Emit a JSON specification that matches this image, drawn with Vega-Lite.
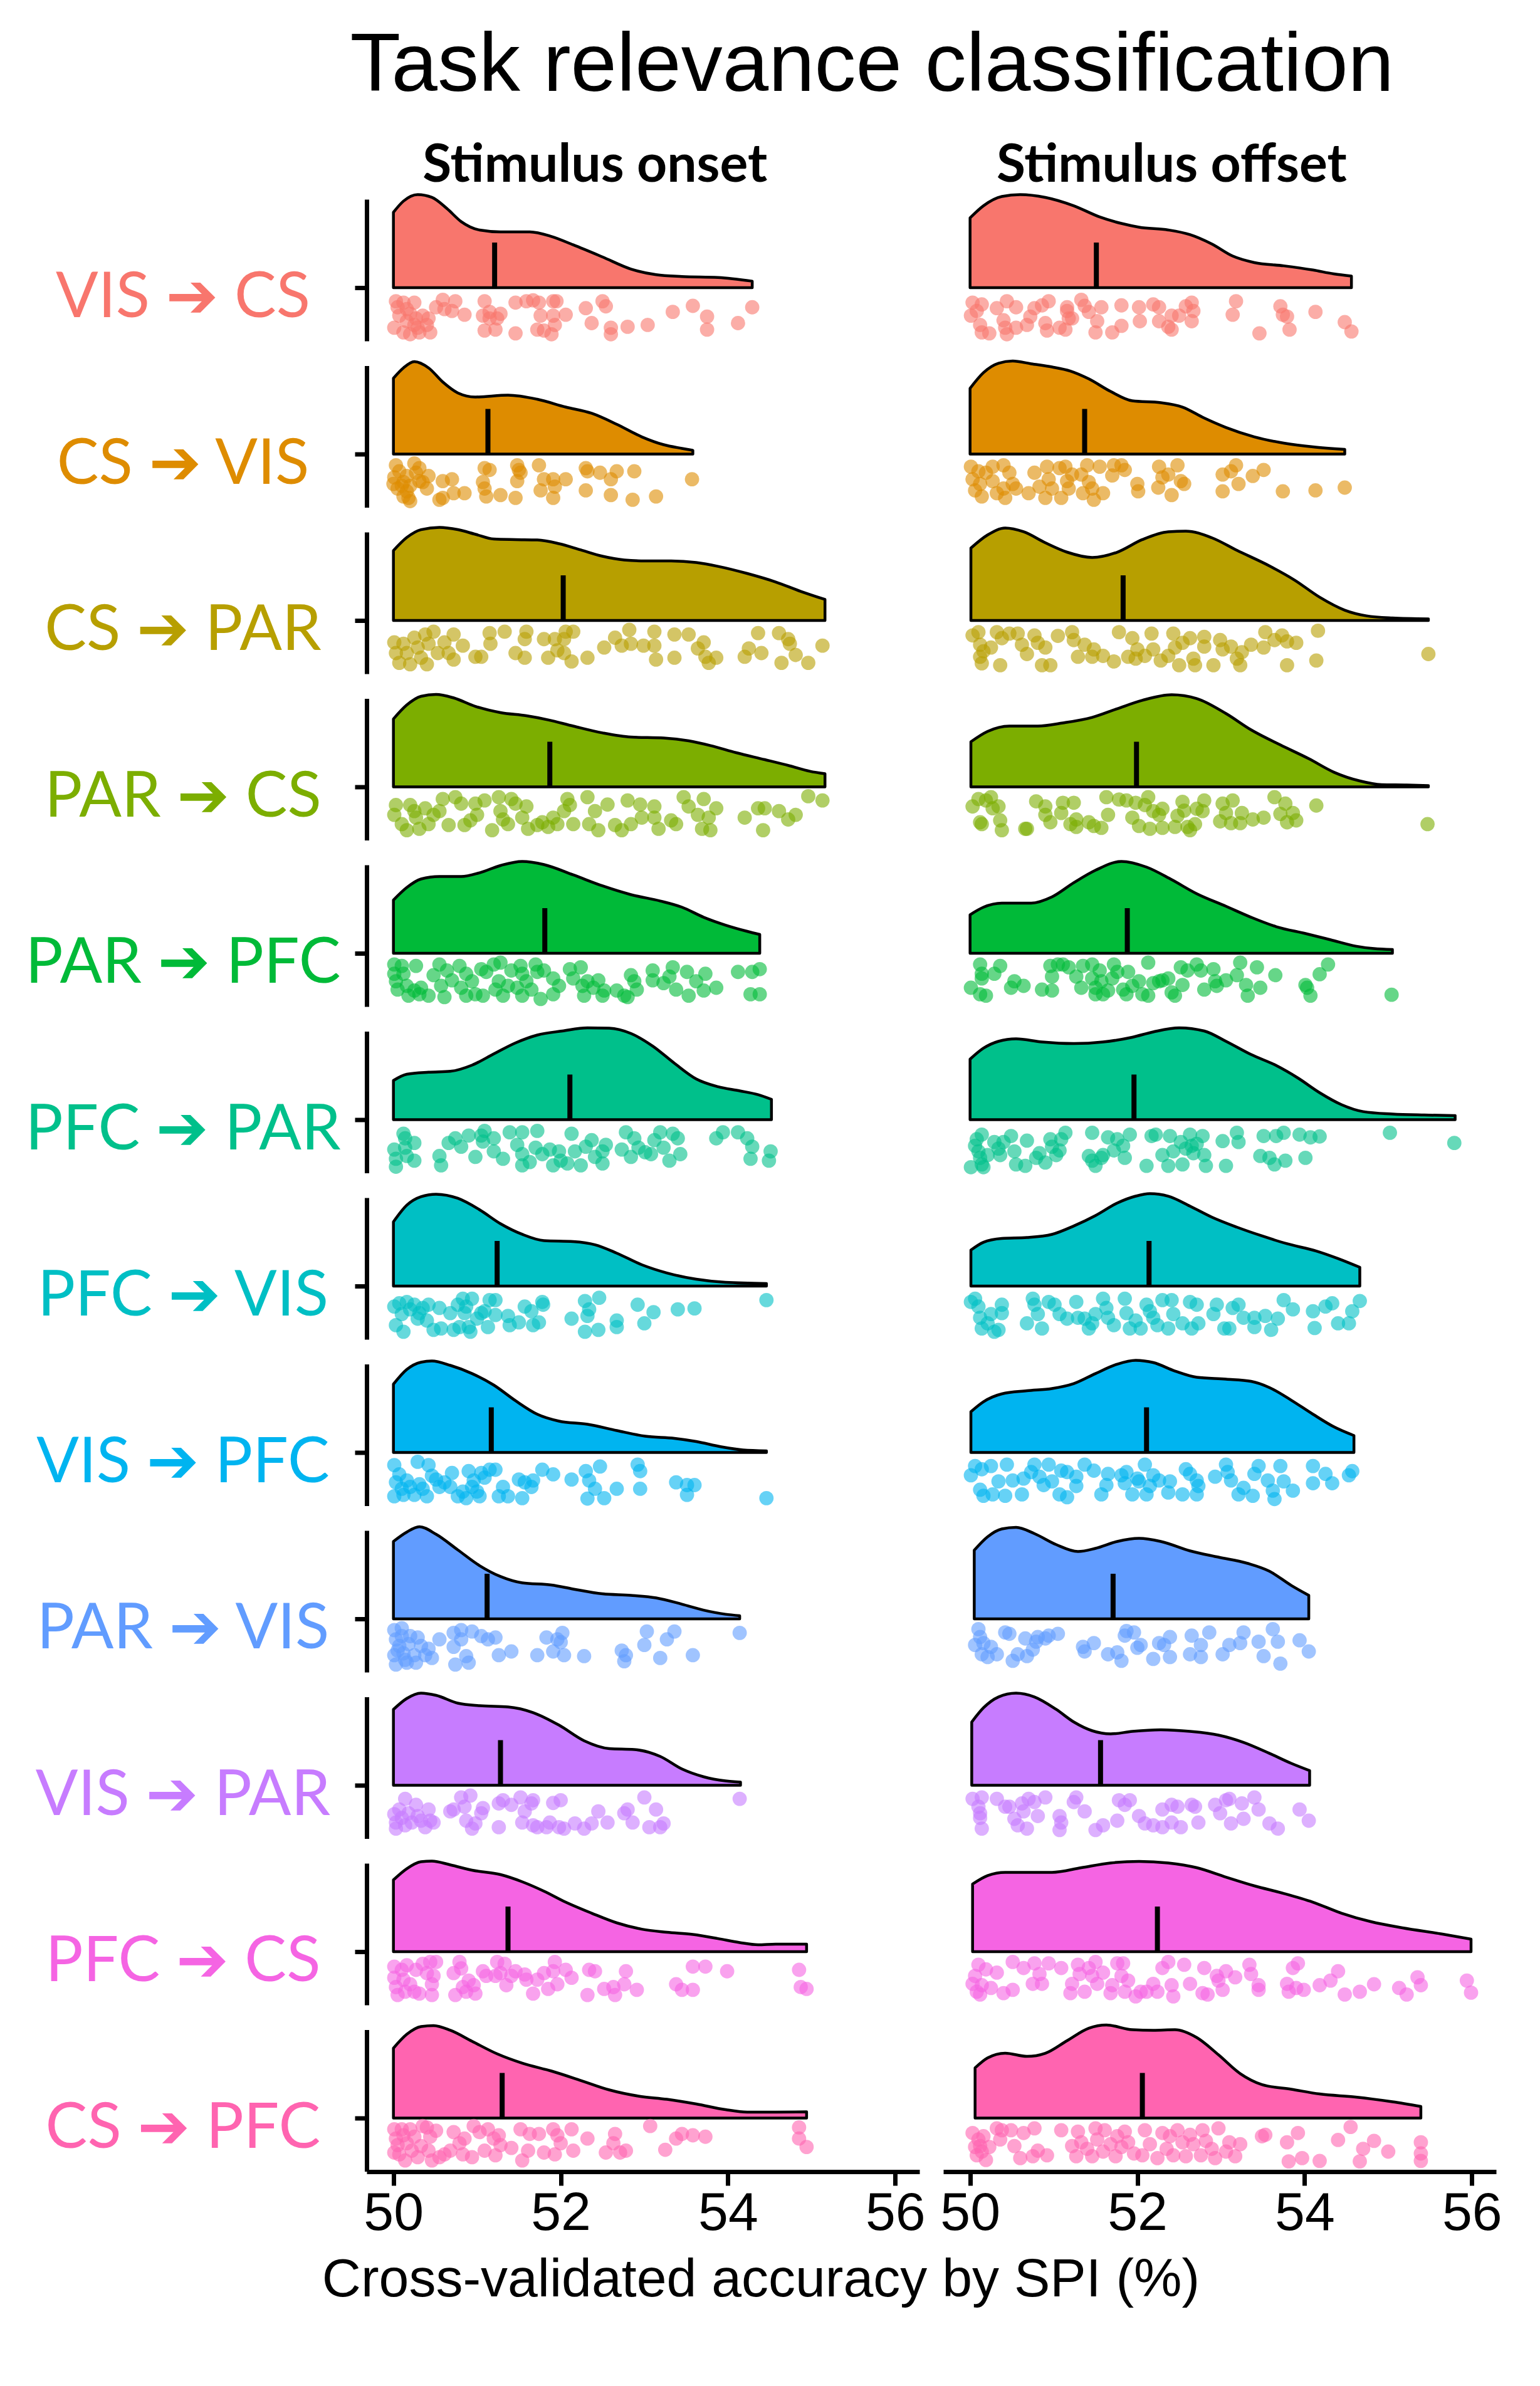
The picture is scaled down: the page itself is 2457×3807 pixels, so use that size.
{
"$schema": "https://vega.github.io/schema/vega-lite/v6.json",
"background": "white",
"padding": {"left": 40, "top": 39, "right": 20, "bottom": 20},
"title": {"text": "Task relevance classification", "font": "Liberation Sans", "fontSize": 132, "fontWeight": "normal", "color": "black", "anchor": "middle", "dx": 173, "offset": 50},
"data": {"values": [
{"t":"d","c":"VIS ➔ CS","e":"Stimulus onset","p":[[50.0,0.81],[50.12,0.93],[50.29,1.0],[50.46,0.97],[50.64,0.85],[50.81,0.71],[51.03,0.62],[51.28,0.6],[51.63,0.6],[51.89,0.55],[52.15,0.46],[52.5,0.33],[52.84,0.2],[53.14,0.14],[53.45,0.12],[53.88,0.11],[54.29,0.07]]},
{"t":"d","c":"VIS ➔ CS","e":"Stimulus offset","p":[[50.0,0.75],[50.16,0.88],[50.38,0.98],[50.6,1.0],[50.9,0.97],[51.24,0.88],[51.55,0.76],[51.81,0.69],[52.02,0.65],[52.37,0.62],[52.63,0.57],[52.89,0.47],[53.14,0.34],[53.4,0.27],[53.75,0.235],[54.1,0.19],[54.35,0.148],[54.56,0.125]]},
{"t":"d","c":"CS ➔ VIS","e":"Stimulus onset","p":[[50.0,0.815],[50.12,0.926],[50.25,0.993],[50.42,0.926],[50.59,0.774],[50.77,0.657],[50.98,0.613],[51.37,0.633],[51.72,0.589],[52.06,0.505],[52.37,0.438],[52.67,0.32],[52.97,0.185],[53.23,0.101],[53.45,0.061],[53.58,0.04]]},
{"t":"d","c":"CS ➔ VIS","e":"Stimulus offset","p":[[50.0,0.707],[50.16,0.875],[50.34,0.976],[50.51,1.0],[50.73,0.97],[50.98,0.936],[51.2,0.892],[51.42,0.808],[51.68,0.673],[51.94,0.572],[52.28,0.552],[52.54,0.505],[52.8,0.387],[53.06,0.286],[53.4,0.185],[53.75,0.118],[54.1,0.077],[54.48,0.05]]},
{"t":"d","c":"CS ➔ PAR","e":"Stimulus onset","p":[[50.0,0.751],[50.16,0.892],[50.33,0.976],[50.55,1.0],[50.77,0.976],[50.98,0.926],[51.2,0.875],[51.46,0.869],[51.72,0.865],[51.98,0.825],[52.24,0.758],[52.5,0.69],[52.76,0.65],[53.01,0.64],[53.32,0.64],[53.62,0.623],[53.88,0.582],[54.23,0.505],[54.57,0.414],[54.87,0.313],[55.16,0.226]]},
{"t":"d","c":"CS ➔ PAR","e":"Stimulus offset","p":[[50.01,0.778],[50.21,0.919],[50.42,0.993],[50.64,0.953],[50.9,0.835],[51.16,0.734],[51.46,0.677],[51.76,0.734],[52.06,0.869],[52.37,0.953],[52.58,0.96],[52.89,0.889],[53.19,0.754],[53.58,0.586],[53.88,0.434],[54.18,0.25],[54.48,0.111],[54.74,0.05],[55.05,0.027],[55.48,0.017]]},
{"t":"d","c":"PAR ➔ CS","e":"Stimulus onset","p":[[50.0,0.73],[50.16,0.88],[50.33,0.973],[50.51,0.993],[50.72,0.956],[50.98,0.865],[51.28,0.798],[51.59,0.764],[51.85,0.72],[52.15,0.653],[52.5,0.58],[52.84,0.535],[53.23,0.525],[53.53,0.495],[53.79,0.444],[54.1,0.367],[54.44,0.293],[54.74,0.226],[54.98,0.168],[55.16,0.141]]},
{"t":"d","c":"PAR ➔ CS","e":"Stimulus offset","p":[[50.01,0.485],[50.21,0.596],[50.47,0.653],[50.81,0.653],[51.11,0.687],[51.46,0.747],[51.76,0.84],[52.06,0.93],[52.41,0.99],[52.71,0.949],[53.06,0.788],[53.36,0.613],[53.71,0.451],[54.05,0.303],[54.35,0.158],[54.66,0.064],[54.92,0.024],[55.22,0.02],[55.48,0.013]]},
{"t":"d","c":"PAR ➔ PFC","e":"Stimulus onset","p":[[50.0,0.572],[50.16,0.707],[50.33,0.798],[50.55,0.825],[50.81,0.825],[51.03,0.865],[51.28,0.943],[51.54,0.987],[51.8,0.953],[52.15,0.842],[52.5,0.724],[52.84,0.63],[53.19,0.562],[53.45,0.495],[53.71,0.387],[53.97,0.303],[54.23,0.236],[54.38,0.202]]},
{"t":"d","c":"PAR ➔ PFC","e":"Stimulus offset","p":[[50.0,0.414],[50.16,0.495],[50.38,0.539],[50.73,0.539],[50.98,0.606],[51.24,0.758],[51.5,0.892],[51.81,0.987],[52.11,0.926],[52.41,0.791],[52.71,0.64],[53.06,0.505],[53.36,0.387],[53.66,0.286],[54.01,0.212],[54.31,0.145],[54.61,0.077],[54.83,0.05],[55.05,0.04]]},
{"t":"d","c":"PFC ➔ PAR","e":"Stimulus onset","p":[[50.0,0.421],[50.16,0.488],[50.42,0.51],[50.68,0.52],[50.94,0.586],[51.2,0.707],[51.46,0.825],[51.72,0.909],[52.02,0.953],[52.32,0.987],[52.58,0.983],[52.84,0.926],[53.1,0.791],[53.36,0.606],[53.62,0.438],[53.88,0.354],[54.14,0.31],[54.36,0.269],[54.52,0.219]]},
{"t":"d","c":"PFC ➔ PAR","e":"Stimulus offset","p":[[50.0,0.65],[50.16,0.768],[50.34,0.842],[50.55,0.869],[50.86,0.835],[51.24,0.818],[51.59,0.835],[51.94,0.886],[52.19,0.943],[52.5,0.987],[52.8,0.953],[53.06,0.842],[53.36,0.7],[53.66,0.582],[53.92,0.448],[54.18,0.29],[54.44,0.162],[54.7,0.087],[55.05,0.061],[55.43,0.05],[55.8,0.044]]},
{"t":"d","c":"PFC ➔ VIS","e":"Stimulus onset","p":[[50.0,0.69],[50.16,0.869],[50.33,0.96],[50.51,0.987],[50.77,0.943],[51.03,0.82],[51.28,0.67],[51.54,0.556],[51.8,0.488],[52.15,0.478],[52.41,0.444],[52.67,0.354],[52.97,0.229],[53.27,0.141],[53.62,0.074],[53.97,0.04],[54.46,0.027]]},
{"t":"d","c":"PFC ➔ VIS","e":"Stimulus offset","p":[[50.01,0.387],[50.16,0.471],[50.38,0.512],[50.68,0.522],[50.98,0.556],[51.24,0.646],[51.5,0.758],[51.76,0.892],[51.98,0.966],[52.15,0.993],[52.37,0.966],[52.63,0.859],[52.89,0.741],[53.19,0.633],[53.49,0.539],[53.79,0.455],[54.14,0.377],[54.4,0.296],[54.66,0.202]]},
{"t":"d","c":"VIS ➔ PFC","e":"Stimulus onset","p":[[50.0,0.734],[50.16,0.892],[50.33,0.97],[50.46,0.983],[50.68,0.936],[50.94,0.848],[51.2,0.724],[51.46,0.556],[51.72,0.411],[51.98,0.337],[52.32,0.303],[52.67,0.236],[53.01,0.175],[53.36,0.152],[53.62,0.118],[53.92,0.061],[54.18,0.027],[54.46,0.017]]},
{"t":"d","c":"VIS ➔ PFC","e":"Stimulus offset","p":[[50.01,0.438],[50.16,0.545],[50.38,0.63],[50.68,0.663],[50.98,0.687],[51.24,0.74],[51.5,0.848],[51.76,0.949],[51.98,0.99],[52.19,0.966],[52.45,0.875],[52.71,0.808],[53.06,0.788],[53.36,0.764],[53.58,0.697],[53.84,0.562],[54.1,0.411],[54.35,0.276],[54.59,0.182]]},
{"t":"d","c":"PAR ➔ VIS","e":"Stimulus onset","p":[[50.0,0.832],[50.16,0.933],[50.31,0.99],[50.51,0.909],[50.77,0.741],[51.03,0.572],[51.28,0.455],[51.54,0.387],[51.89,0.364],[52.15,0.32],[52.5,0.269],[52.84,0.253],[53.14,0.226],[53.45,0.158],[53.71,0.094],[53.97,0.05],[54.14,0.034]]},
{"t":"d","c":"PAR ➔ VIS","e":"Stimulus offset","p":[[50.05,0.737],[50.21,0.882],[50.38,0.966],[50.55,0.983],[50.77,0.916],[51.03,0.798],[51.29,0.724],[51.5,0.758],[51.76,0.832],[52.02,0.865],[52.28,0.832],[52.63,0.731],[52.97,0.663],[53.32,0.596],[53.58,0.512],[53.84,0.36],[54.05,0.253]]},
{"t":"d","c":"VIS ➔ PAR","e":"Stimulus onset","p":[[50.0,0.815],[50.16,0.933],[50.33,0.99],[50.51,0.966],[50.77,0.882],[51.03,0.855],[51.37,0.842],[51.67,0.781],[51.98,0.646],[52.28,0.478],[52.58,0.394],[52.88,0.384],[53.19,0.31],[53.45,0.175],[53.71,0.091],[53.97,0.047],[54.15,0.034]]},
{"t":"d","c":"VIS ➔ PAR","e":"Stimulus offset","p":[[50.02,0.68],[50.16,0.832],[50.34,0.949],[50.55,0.99],[50.77,0.949],[51.03,0.815],[51.24,0.68],[51.46,0.586],[51.68,0.552],[51.94,0.579],[52.28,0.596],[52.63,0.579],[52.97,0.539],[53.27,0.461],[53.58,0.343],[53.84,0.236],[54.06,0.158]]},
{"t":"d","c":"PFC ➔ CS","e":"Stimulus onset","p":[[50.0,0.771],[50.16,0.892],[50.33,0.966],[50.46,0.973],[50.68,0.933],[50.94,0.875],[51.28,0.828],[51.54,0.751],[51.8,0.65],[52.06,0.532],[52.37,0.414],[52.67,0.31],[52.97,0.242],[53.27,0.209],[53.58,0.185],[53.88,0.141],[54.14,0.098],[54.36,0.074],[54.57,0.081],[54.94,0.081]]},
{"t":"d","c":"PFC ➔ CS","e":"Stimulus offset","p":[[50.03,0.727],[50.21,0.818],[50.42,0.852],[50.68,0.852],[50.98,0.852],[51.33,0.902],[51.68,0.953],[52.02,0.97],[52.37,0.953],[52.71,0.902],[53.06,0.801],[53.4,0.707],[53.75,0.626],[54.1,0.532],[54.44,0.414],[54.79,0.323],[55.17,0.256],[55.65,0.189],[55.99,0.135]]},
{"t":"d","c":"CS ➔ PFC","e":"Stimulus onset","p":[[50.0,0.751],[50.16,0.9],[50.33,0.983],[50.48,0.993],[50.68,0.943],[50.94,0.825],[51.24,0.69],[51.54,0.59],[51.89,0.505],[52.24,0.404],[52.58,0.303],[52.93,0.236],[53.27,0.202],[53.62,0.152],[53.97,0.091],[54.23,0.064],[54.57,0.064],[54.94,0.067]]},
{"t":"d","c":"CS ➔ PFC","e":"Stimulus offset","p":[[50.06,0.539],[50.21,0.646],[50.42,0.697],[50.68,0.663],[50.9,0.697],[51.16,0.832],[51.42,0.966],[51.63,1.0],[51.94,0.949],[52.19,0.943],[52.45,0.949],[52.71,0.865],[52.97,0.68],[53.23,0.478],[53.49,0.36],[53.84,0.31],[54.18,0.259],[54.61,0.226],[55.05,0.175],[55.39,0.125]]},
{"t":"m","c":"VIS ➔ CS","e":"Stimulus onset","p":[[51.21,0]]},
{"t":"m","c":"VIS ➔ CS","e":"Stimulus offset","p":[[51.51,0]]},
{"t":"m","c":"CS ➔ VIS","e":"Stimulus onset","p":[[51.13,0]]},
{"t":"m","c":"CS ➔ VIS","e":"Stimulus offset","p":[[51.37,0]]},
{"t":"m","c":"CS ➔ PAR","e":"Stimulus onset","p":[[52.03,0]]},
{"t":"m","c":"CS ➔ PAR","e":"Stimulus offset","p":[[51.83,0]]},
{"t":"m","c":"PAR ➔ CS","e":"Stimulus onset","p":[[51.87,0]]},
{"t":"m","c":"PAR ➔ CS","e":"Stimulus offset","p":[[51.99,0]]},
{"t":"m","c":"PAR ➔ PFC","e":"Stimulus onset","p":[[51.81,0]]},
{"t":"m","c":"PAR ➔ PFC","e":"Stimulus offset","p":[[51.88,0]]},
{"t":"m","c":"PFC ➔ PAR","e":"Stimulus onset","p":[[52.11,0]]},
{"t":"m","c":"PFC ➔ PAR","e":"Stimulus offset","p":[[51.96,0]]},
{"t":"m","c":"PFC ➔ VIS","e":"Stimulus onset","p":[[51.24,0]]},
{"t":"m","c":"PFC ➔ VIS","e":"Stimulus offset","p":[[52.14,0]]},
{"t":"m","c":"VIS ➔ PFC","e":"Stimulus onset","p":[[51.17,0]]},
{"t":"m","c":"VIS ➔ PFC","e":"Stimulus offset","p":[[52.11,0]]},
{"t":"m","c":"PAR ➔ VIS","e":"Stimulus onset","p":[[51.12,0]]},
{"t":"m","c":"PAR ➔ VIS","e":"Stimulus offset","p":[[51.71,0]]},
{"t":"m","c":"VIS ➔ PAR","e":"Stimulus onset","p":[[51.28,0]]},
{"t":"m","c":"VIS ➔ PAR","e":"Stimulus offset","p":[[51.56,0]]},
{"t":"m","c":"PFC ➔ CS","e":"Stimulus onset","p":[[51.37,0]]},
{"t":"m","c":"PFC ➔ CS","e":"Stimulus offset","p":[[52.24,0]]},
{"t":"m","c":"CS ➔ PFC","e":"Stimulus onset","p":[[51.3,0]]},
{"t":"m","c":"CS ➔ PFC","e":"Stimulus offset","p":[[52.06,0]]},
{"t":"p","c":"VIS ➔ CS","e":"Stimulus onset","p":[[50.03,-0.145],[50.05,-0.21],[50.12,-0.16],[50.16,-0.23],[50.2,-0.28],[50.25,-0.16],[50.27,-0.33],[50.29,-0.43],[50.01,-0.43],[50.12,-0.48],[50.2,-0.5],[50.35,-0.3],[50.42,-0.33],[50.44,-0.48],[50.4,-0.4],[50.16,-0.36],[50.07,-0.3],[50.25,-0.4],[50.31,-0.48],[50.51,-0.21],[50.59,-0.13],[50.61,-0.23],[50.7,-0.25],[50.74,-0.145],[50.85,-0.29],[51.09,-0.145],[51.07,-0.3],[51.15,-0.33],[51.24,-0.33],[51.28,-0.28],[51.22,-0.45],[51.09,-0.46],[51.15,-0.26],[51.46,-0.16],[51.46,-0.49],[51.59,-0.145],[51.67,-0.135],[51.74,-0.16],[51.76,-0.3],[51.72,-0.45],[51.8,-0.46],[51.91,-0.145],[51.95,-0.145],[51.91,-0.3],[51.93,-0.4],[51.89,-0.5],[52.06,-0.29],[52.3,-0.22],[52.37,-0.38],[52.5,-0.145],[52.54,-0.2],[52.6,-0.43],[52.6,-0.5],[52.8,-0.42],[53.04,-0.4],[53.34,-0.26],[53.58,-0.195],[53.75,-0.31],[53.75,-0.45],[54.12,-0.38],[54.29,-0.21]]},
{"t":"p","c":"VIS ➔ CS","e":"Stimulus offset","p":[[50.03,-0.16],[50.01,-0.3],[50.08,-0.25],[50.14,-0.18],[50.12,-0.4],[50.14,-0.48],[50.23,-0.49],[50.32,-0.22],[50.4,-0.35],[50.42,-0.43],[50.44,-0.145],[50.44,-0.5],[50.55,-0.21],[50.55,-0.43],[50.68,-0.4],[50.72,-0.31],[50.77,-0.22],[50.86,-0.19],[50.9,-0.38],[50.94,-0.145],[50.92,-0.46],[51.07,-0.43],[51.16,-0.25],[51.14,-0.45],[51.18,-0.33],[51.22,-0.33],[51.16,-0.21],[51.33,-0.13],[51.37,-0.195],[51.42,-0.26],[51.52,-0.36],[51.5,-0.48],[51.57,-0.21],[51.7,-0.48],[51.81,-0.19],[51.81,-0.41],[52.02,-0.21],[52.03,-0.36],[52.19,-0.18],[52.26,-0.21],[52.26,-0.36],[52.37,-0.42],[52.41,-0.45],[52.41,-0.3],[52.5,-0.3],[52.58,-0.2],[52.65,-0.16],[52.65,-0.36],[52.67,-0.25],[53.18,-0.145],[53.14,-0.29],[53.46,-0.49],[53.71,-0.2],[53.74,-0.29],[53.79,-0.31],[53.82,-0.45],[54.13,-0.26],[54.48,-0.37],[54.56,-0.47]]},
{"t":"p","c":"CS ➔ VIS","e":"Stimulus onset","p":[[50.03,-0.12],[50.07,-0.185],[50.12,-0.3],[50.16,-0.235],[50.2,-0.34],[50.25,-0.1],[50.27,-0.2],[50.31,-0.29],[50.0,-0.32],[50.05,-0.37],[50.12,-0.455],[50.2,-0.505],[50.35,-0.3],[50.42,-0.235],[50.4,-0.37],[50.16,-0.4],[50.59,-0.29],[50.59,-0.47],[50.7,-0.27],[50.72,-0.42],[50.85,-0.42],[51.09,-0.15],[51.07,-0.3],[51.11,-0.455],[51.15,-0.17],[51.09,-0.37],[51.28,-0.44],[51.46,-0.47],[51.48,-0.12],[51.5,-0.17],[51.48,-0.29],[51.52,-0.2],[51.74,-0.12],[51.8,-0.27],[51.76,-0.39],[51.91,-0.27],[51.91,-0.47],[51.93,-0.35],[52.06,-0.27],[52.3,-0.15],[52.32,-0.185],[52.3,-0.39],[52.47,-0.2],[52.6,-0.27],[52.67,-0.185],[52.6,-0.44],[52.86,-0.49],[52.88,-0.185],[53.14,-0.455],[53.57,-0.27],[50.1,-0.34],[50.01,-0.25],[50.18,-0.47],[50.31,-0.15],[50.55,-0.49]]},
{"t":"p","c":"CS ➔ VIS","e":"Stimulus offset","p":[[50.01,-0.135],[50.03,-0.27],[50.06,-0.39],[50.1,-0.185],[50.12,-0.32],[50.14,-0.455],[50.19,-0.2],[50.27,-0.135],[50.27,-0.29],[50.32,-0.42],[50.4,-0.12],[50.4,-0.37],[50.42,-0.47],[50.47,-0.2],[50.51,-0.32],[50.55,-0.37],[50.7,-0.42],[50.77,-0.2],[50.83,-0.35],[50.9,-0.47],[50.92,-0.135],[50.94,-0.27],[50.98,-0.37],[51.07,-0.15],[51.09,-0.47],[51.14,-0.135],[51.16,-0.29],[51.18,-0.37],[51.22,-0.22],[51.33,-0.22],[51.35,-0.42],[51.4,-0.12],[51.42,-0.3],[51.46,-0.37],[51.48,-0.49],[51.55,-0.135],[51.59,-0.42],[51.72,-0.12],[51.7,-0.23],[51.81,-0.12],[51.85,-0.17],[52.0,-0.32],[52.01,-0.4],[52.25,-0.36],[52.26,-0.135],[52.3,-0.25],[52.37,-0.22],[52.41,-0.44],[52.48,-0.12],[52.52,-0.29],[52.56,-0.32],[53.02,-0.22],[53.02,-0.4],[53.12,-0.185],[53.18,-0.12],[53.21,-0.32],[53.38,-0.235],[53.51,-0.17],[53.74,-0.4],[54.13,-0.39],[54.48,-0.36]]},
{"t":"p","c":"CS ➔ PAR","e":"Stimulus onset","p":[[50.01,-0.235],[50.03,-0.35],[50.07,-0.455],[50.12,-0.25],[50.16,-0.35],[50.2,-0.47],[50.25,-0.185],[50.29,-0.29],[50.33,-0.4],[50.38,-0.15],[50.42,-0.25],[50.4,-0.47],[50.48,-0.12],[50.53,-0.35],[50.61,-0.235],[50.66,-0.35],[50.72,-0.15],[50.72,-0.42],[50.83,-0.27],[50.98,-0.39],[51.05,-0.39],[51.15,-0.135],[51.16,-0.25],[51.33,-0.12],[51.46,-0.35],[51.57,-0.4],[51.57,-0.2],[51.59,-0.12],[51.8,-0.2],[51.85,-0.4],[51.93,-0.2],[51.96,-0.32],[52.04,-0.2],[52.06,-0.12],[52.15,-0.12],[52.04,-0.35],[52.13,-0.44],[52.32,-0.4],[52.52,-0.29],[52.65,-0.185],[52.73,-0.27],[52.82,-0.1],[52.84,-0.25],[52.99,-0.27],[53.12,-0.12],[53.12,-0.27],[53.14,-0.42],[53.36,-0.15],[53.36,-0.4],[53.53,-0.15],[53.64,-0.3],[53.71,-0.235],[53.73,-0.39],[53.77,-0.455],[53.86,-0.4],[54.2,-0.39],[54.25,-0.3],[54.36,-0.135],[54.4,-0.35],[54.61,-0.135],[54.64,-0.455],[54.72,-0.2],[54.74,-0.25],[54.81,-0.37],[54.96,-0.455],[55.13,-0.27]]},
{"t":"p","c":"CS ➔ PAR","e":"Stimulus offset","p":[[50.03,-0.16],[50.1,-0.125],[50.12,-0.26],[50.12,-0.39],[50.14,-0.46],[50.16,-0.33],[50.25,-0.29],[50.32,-0.125],[50.36,-0.48],[50.38,-0.19],[50.47,-0.14],[50.57,-0.14],[50.62,-0.26],[50.68,-0.36],[50.77,-0.16],[50.81,-0.24],[50.86,-0.48],[50.9,-0.29],[50.96,-0.48],[51.05,-0.165],[51.22,-0.125],[51.24,-0.21],[51.29,-0.39],[51.37,-0.26],[51.46,-0.39],[51.48,-0.31],[51.59,-0.38],[51.72,-0.44],[51.78,-0.125],[51.94,-0.19],[51.89,-0.39],[52.0,-0.31],[51.98,-0.41],[52.09,-0.38],[52.17,-0.14],[52.19,-0.31],[52.28,-0.43],[52.37,-0.38],[52.43,-0.14],[52.45,-0.29],[52.5,-0.48],[52.54,-0.24],[52.63,-0.19],[52.67,-0.41],[52.69,-0.48],[52.8,-0.28],[52.8,-0.175],[52.91,-0.48],[52.99,-0.21],[53.02,-0.31],[53.12,-0.28],[53.19,-0.41],[53.25,-0.34],[53.23,-0.48],[53.36,-0.26],[53.51,-0.29],[53.53,-0.125],[53.64,-0.21],[53.73,-0.16],[53.79,-0.225],[53.79,-0.48],[53.9,-0.24],[54.16,-0.11],[54.14,-0.43],[55.48,-0.36]]},
{"t":"p","c":"PAR ➔ CS","e":"Stimulus onset","p":[[50.03,-0.195],[50.01,-0.3],[50.1,-0.4],[50.16,-0.465],[50.2,-0.195],[50.25,-0.26],[50.27,-0.33],[50.31,-0.45],[50.38,-0.23],[50.42,-0.4],[50.48,-0.3],[50.55,-0.26],[50.59,-0.13],[50.66,-0.41],[50.74,-0.11],[50.81,-0.18],[50.85,-0.41],[50.92,-0.36],[50.98,-0.18],[51.0,-0.3],[51.09,-0.145],[51.18,-0.465],[51.26,-0.11],[51.28,-0.26],[51.31,-0.35],[51.37,-0.4],[51.41,-0.13],[51.46,-0.18],[51.54,-0.33],[51.59,-0.21],[51.61,-0.45],[51.72,-0.41],[51.78,-0.38],[51.85,-0.43],[51.91,-0.33],[51.96,-0.4],[52.04,-0.26],[52.08,-0.13],[52.11,-0.195],[52.15,-0.4],[52.32,-0.11],[52.34,-0.4],[52.41,-0.26],[52.45,-0.465],[52.56,-0.19],[52.65,-0.41],[52.73,-0.465],[52.8,-0.145],[52.84,-0.4],[52.95,-0.19],[52.97,-0.33],[53.12,-0.21],[53.12,-0.33],[53.17,-0.45],[53.32,-0.36],[53.38,-0.4],[53.47,-0.11],[53.53,-0.21],[53.64,-0.3],[53.69,-0.45],[53.71,-0.13],[53.77,-0.33],[53.79,-0.465],[53.86,-0.23],[54.2,-0.33],[54.36,-0.23],[54.42,-0.465],[54.44,-0.23],[54.61,-0.26],[54.72,-0.35],[54.81,-0.3],[54.96,-0.1],[55.13,-0.145]]},
{"t":"p","c":"PAR ➔ CS","e":"Stimulus offset","p":[[50.03,-0.21],[50.1,-0.13],[50.12,-0.38],[50.14,-0.4],[50.19,-0.145],[50.25,-0.11],[50.27,-0.23],[50.34,-0.21],[50.36,-0.36],[50.38,-0.465],[50.66,-0.45],[50.68,-0.45],[50.79,-0.155],[50.9,-0.21],[50.9,-0.3],[50.96,-0.38],[51.09,-0.28],[51.11,-0.17],[51.2,-0.4],[51.24,-0.17],[51.27,-0.43],[51.27,-0.35],[51.42,-0.38],[51.48,-0.42],[51.57,-0.44],[51.63,-0.11],[51.65,-0.3],[51.78,-0.135],[51.87,-0.145],[51.94,-0.33],[51.98,-0.17],[52.02,-0.42],[52.09,-0.195],[52.13,-0.11],[52.15,-0.45],[52.19,-0.26],[52.26,-0.3],[52.3,-0.235],[52.3,-0.44],[52.45,-0.43],[52.48,-0.31],[52.54,-0.16],[52.56,-0.255],[52.6,-0.43],[52.63,-0.465],[52.69,-0.4],[52.71,-0.235],[52.78,-0.26],[52.8,-0.145],[52.99,-0.37],[53.02,-0.18],[53.06,-0.28],[53.12,-0.39],[53.14,-0.145],[53.23,-0.39],[53.25,-0.28],[53.38,-0.35],[53.51,-0.33],[53.64,-0.11],[53.71,-0.29],[53.77,-0.18],[53.79,-0.38],[53.86,-0.28],[53.9,-0.36],[54.14,-0.2],[55.47,-0.4]]},
{"t":"p","c":"PAR ➔ PFC","e":"Stimulus onset","p":[[50.01,-0.12],[50.01,-0.22],[50.03,-0.3],[50.05,-0.39],[50.1,-0.135],[50.12,-0.22],[50.16,-0.35],[50.18,-0.455],[50.25,-0.4],[50.27,-0.135],[50.31,-0.44],[50.33,-0.37],[50.42,-0.455],[50.48,-0.235],[50.55,-0.12],[50.57,-0.35],[50.61,-0.47],[50.64,-0.185],[50.7,-0.29],[50.79,-0.135],[50.81,-0.37],[50.87,-0.455],[50.87,-0.22],[50.94,-0.3],[50.98,-0.44],[51.05,-0.17],[51.07,-0.455],[51.11,-0.2],[51.2,-0.12],[51.22,-0.39],[51.26,-0.3],[51.28,-0.1],[51.31,-0.455],[51.37,-0.35],[51.41,-0.185],[51.48,-0.37],[51.52,-0.135],[51.54,-0.22],[51.54,-0.455],[51.59,-0.3],[51.65,-0.39],[51.7,-0.12],[51.72,-0.2],[51.76,-0.49],[51.8,-0.185],[51.91,-0.27],[51.91,-0.44],[51.98,-0.35],[52.11,-0.17],[52.15,-0.27],[52.24,-0.15],[52.26,-0.35],[52.28,-0.455],[52.32,-0.3],[52.39,-0.37],[52.45,-0.29],[52.5,-0.455],[52.52,-0.4],[52.67,-0.4],[52.76,-0.455],[52.8,-0.47],[52.84,-0.235],[52.88,-0.3],[52.91,-0.39],[53.1,-0.185],[53.1,-0.29],[53.23,-0.32],[53.3,-0.25],[53.34,-0.15],[53.38,-0.39],[53.51,-0.2],[53.53,-0.455],[53.62,-0.3],[53.71,-0.4],[53.73,-0.22],[53.86,-0.37],[54.12,-0.2],[54.27,-0.44],[54.29,-0.2],[54.38,-0.17],[54.38,-0.44]]},
{"t":"p","c":"PAR ➔ PFC","e":"Stimulus offset","p":[[50.01,-0.37],[50.12,-0.12],[50.14,-0.22],[50.14,-0.27],[50.12,-0.44],[50.19,-0.455],[50.29,-0.22],[50.36,-0.135],[50.49,-0.37],[50.53,-0.3],[50.64,-0.35],[50.86,-0.39],[50.96,-0.135],[50.98,-0.25],[50.98,-0.4],[51.05,-0.12],[51.11,-0.12],[51.18,-0.15],[51.27,-0.25],[51.33,-0.37],[51.35,-0.135],[51.46,-0.12],[51.46,-0.27],[51.5,-0.37],[51.5,-0.44],[51.55,-0.185],[51.57,-0.3],[51.59,-0.44],[51.65,-0.4],[51.7,-0.27],[51.72,-0.12],[51.76,-0.2],[51.83,-0.39],[51.87,-0.44],[51.89,-0.2],[51.94,-0.35],[52.02,-0.3],[52.06,-0.44],[52.13,-0.1],[52.13,-0.455],[52.19,-0.32],[52.26,-0.3],[52.3,-0.29],[52.37,-0.27],[52.41,-0.42],[52.45,-0.455],[52.52,-0.15],[52.54,-0.34],[52.6,-0.185],[52.71,-0.12],[52.76,-0.185],[52.8,-0.39],[52.91,-0.17],[52.93,-0.3],[52.95,-0.35],[53.06,-0.29],[53.19,-0.235],[53.23,-0.1],[53.3,-0.34],[53.32,-0.455],[53.43,-0.15],[53.47,-0.37],[53.65,-0.235],[54.01,-0.34],[54.03,-0.37],[54.07,-0.455],[54.18,-0.225],[54.28,-0.12],[55.04,-0.445]]},
{"t":"p","c":"PFC ➔ PAR","e":"Stimulus onset","p":[[50.01,-0.32],[50.03,-0.42],[50.03,-0.505],[50.12,-0.15],[50.14,-0.2],[50.14,-0.3],[50.16,-0.39],[50.25,-0.44],[50.25,-0.25],[50.55,-0.39],[50.57,-0.49],[50.66,-0.25],[50.74,-0.2],[50.81,-0.29],[50.9,-0.17],[50.98,-0.4],[51.05,-0.17],[51.07,-0.235],[51.09,-0.12],[51.2,-0.2],[51.2,-0.34],[51.31,-0.42],[51.39,-0.135],[51.48,-0.27],[51.54,-0.135],[51.54,-0.37],[51.54,-0.49],[51.63,-0.455],[51.7,-0.3],[51.72,-0.12],[51.78,-0.37],[51.87,-0.32],[51.91,-0.49],[51.98,-0.34],[52.0,-0.44],[52.08,-0.47],[52.13,-0.15],[52.17,-0.34],[52.24,-0.49],[52.3,-0.29],[52.37,-0.22],[52.41,-0.4],[52.5,-0.34],[52.54,-0.27],[52.5,-0.47],[52.73,-0.32],[52.78,-0.135],[52.84,-0.4],[52.88,-0.2],[52.93,-0.3],[53.01,-0.35],[53.08,-0.37],[53.12,-0.22],[53.19,-0.135],[53.23,-0.3],[53.3,-0.44],[53.34,-0.15],[53.4,-0.2],[53.43,-0.37],[53.86,-0.2],[53.94,-0.135],[54.12,-0.135],[54.23,-0.2],[54.29,-0.29],[54.27,-0.42],[54.49,-0.44],[54.51,-0.34]]},
{"t":"p","c":"PFC ➔ PAR","e":"Stimulus offset","p":[[50.01,-0.51],[50.06,-0.28],[50.08,-0.21],[50.1,-0.34],[50.12,-0.41],[50.14,-0.16],[50.14,-0.48],[50.16,-0.51],[50.21,-0.38],[50.29,-0.24],[50.34,-0.31],[50.36,-0.38],[50.4,-0.24],[50.49,-0.175],[50.53,-0.34],[50.55,-0.48],[50.66,-0.495],[50.68,-0.225],[50.79,-0.41],[50.83,-0.36],[50.9,-0.46],[50.96,-0.21],[50.98,-0.29],[51.03,-0.38],[51.07,-0.33],[51.09,-0.21],[51.14,-0.14],[51.46,-0.14],[51.42,-0.39],[51.46,-0.44],[51.5,-0.495],[51.57,-0.41],[51.59,-0.38],[51.65,-0.19],[51.72,-0.33],[51.76,-0.21],[51.83,-0.28],[51.85,-0.41],[51.91,-0.16],[52.11,-0.495],[52.17,-0.175],[52.22,-0.16],[52.3,-0.38],[52.37,-0.495],[52.39,-0.175],[52.43,-0.34],[52.52,-0.24],[52.54,-0.48],[52.58,-0.31],[52.63,-0.16],[52.65,-0.28],[52.67,-0.36],[52.71,-0.26],[52.78,-0.175],[52.8,-0.38],[52.82,-0.495],[53.02,-0.23],[53.06,-0.495],[53.19,-0.14],[53.21,-0.24],[53.47,-0.39],[53.51,-0.175],[53.58,-0.41],[53.64,-0.48],[53.66,-0.175],[53.75,-0.14],[53.77,-0.44],[53.94,-0.16],[54.01,-0.41],[54.07,-0.19],[54.18,-0.18],[55.02,-0.14],[55.79,-0.25]]},
{"t":"p","c":"PFC ➔ VIS","e":"Stimulus onset","p":[[50.01,-0.22],[50.03,-0.42],[50.07,-0.185],[50.1,-0.3],[50.12,-0.49],[50.16,-0.17],[50.2,-0.25],[50.25,-0.2],[50.29,-0.35],[50.31,-0.29],[50.35,-0.235],[50.4,-0.37],[50.42,-0.2],[50.48,-0.47],[50.55,-0.235],[50.57,-0.455],[50.68,-0.29],[50.72,-0.47],[50.77,-0.2],[50.79,-0.44],[50.83,-0.135],[50.85,-0.29],[50.87,-0.22],[50.9,-0.44],[50.94,-0.135],[50.92,-0.49],[51.0,-0.35],[51.05,-0.29],[51.09,-0.27],[51.13,-0.44],[51.15,-0.15],[51.22,-0.15],[51.22,-0.31],[51.37,-0.32],[51.39,-0.42],[51.5,-0.39],[51.57,-0.22],[51.65,-0.27],[51.67,-0.42],[51.74,-0.39],[51.78,-0.17],[51.79,-0.2],[52.13,-0.35],[52.29,-0.16],[52.29,-0.49],[52.32,-0.32],[52.34,-0.25],[52.45,-0.47],[52.46,-0.125],[52.67,-0.37],[52.67,-0.44],[52.92,-0.2],[53.0,-0.4],[53.11,-0.28],[53.4,-0.25],[53.6,-0.24],[54.46,-0.15]]},
{"t":"p","c":"PFC ➔ VIS","e":"Stimulus offset","p":[[50.01,-0.17],[50.06,-0.135],[50.1,-0.22],[50.12,-0.34],[50.14,-0.455],[50.21,-0.4],[50.25,-0.3],[50.29,-0.49],[50.34,-0.47],[50.38,-0.2],[50.38,-0.29],[50.68,-0.4],[50.75,-0.135],[50.77,-0.2],[50.81,-0.3],[50.86,-0.455],[50.94,-0.17],[51.01,-0.2],[51.07,-0.3],[51.16,-0.35],[51.27,-0.17],[51.29,-0.34],[51.37,-0.35],[51.42,-0.455],[51.46,-0.4],[51.5,-0.3],[51.59,-0.135],[51.63,-0.235],[51.65,-0.34],[51.72,-0.42],[51.85,-0.135],[51.87,-0.29],[51.91,-0.455],[51.98,-0.37],[52.04,-0.455],[52.11,-0.2],[52.15,-0.27],[52.19,-0.34],[52.24,-0.42],[52.3,-0.15],[52.37,-0.455],[52.41,-0.15],[52.43,-0.3],[52.54,-0.4],[52.63,-0.17],[52.65,-0.455],[52.71,-0.2],[52.73,-0.4],[52.91,-0.3],[52.95,-0.2],[53.04,-0.455],[53.1,-0.455],[53.14,-0.235],[53.21,-0.2],[53.27,-0.34],[53.4,-0.34],[53.4,-0.44],[53.53,-0.32],[53.6,-0.47],[53.68,-0.35],[53.75,-0.15],[53.86,-0.25],[54.1,-0.27],[54.12,-0.45],[54.25,-0.22],[54.33,-0.185],[54.4,-0.4],[54.53,-0.4],[54.57,-0.27],[54.66,-0.16]]},
{"t":"p","c":"VIS ➔ PFC","e":"Stimulus onset","p":[[50.01,-0.135],[50.03,-0.32],[50.01,-0.47],[50.07,-0.235],[50.1,-0.39],[50.12,-0.455],[50.16,-0.3],[50.2,-0.37],[50.25,-0.455],[50.29,-0.1],[50.31,-0.34],[50.35,-0.39],[50.4,-0.47],[50.42,-0.135],[50.46,-0.25],[50.51,-0.29],[50.55,-0.37],[50.61,-0.32],[50.68,-0.37],[50.7,-0.22],[50.77,-0.47],[50.83,-0.42],[50.87,-0.49],[50.9,-0.2],[50.94,-0.37],[50.96,-0.3],[51.0,-0.42],[51.03,-0.47],[51.05,-0.22],[51.09,-0.27],[51.15,-0.185],[51.22,-0.185],[51.26,-0.47],[51.31,-0.37],[51.37,-0.47],[51.5,-0.29],[51.54,-0.49],[51.57,-0.32],[51.65,-0.37],[51.67,-0.3],[51.78,-0.185],[51.91,-0.235],[52.13,-0.29],[52.3,-0.2],[52.34,-0.3],[52.32,-0.495],[52.41,-0.39],[52.47,-0.15],[52.52,-0.49],[52.67,-0.39],[52.92,-0.13],[52.95,-0.2],[52.95,-0.39],[53.38,-0.32],[53.51,-0.35],[53.51,-0.455],[53.6,-0.35],[54.46,-0.49]]},
{"t":"p","c":"VIS ➔ PFC","e":"Stimulus offset","p":[[50.01,-0.245],[50.06,-0.145],[50.12,-0.4],[50.14,-0.18],[50.16,-0.465],[50.25,-0.145],[50.27,-0.45],[50.34,-0.31],[50.42,-0.465],[50.44,-0.13],[50.51,-0.3],[50.62,-0.45],[50.64,-0.28],[50.73,-0.21],[50.77,-0.13],[50.83,-0.26],[50.88,-0.35],[50.94,-0.13],[50.98,-0.31],[51.07,-0.45],[51.09,-0.195],[51.16,-0.48],[51.16,-0.21],[51.27,-0.36],[51.27,-0.26],[51.37,-0.13],[51.48,-0.195],[51.57,-0.45],[51.63,-0.35],[51.65,-0.23],[51.81,-0.245],[51.85,-0.33],[51.87,-0.21],[51.94,-0.45],[52.0,-0.28],[52.02,-0.31],[52.09,-0.13],[52.11,-0.45],[52.15,-0.36],[52.19,-0.245],[52.26,-0.3],[52.37,-0.43],[52.39,-0.31],[52.54,-0.45],[52.58,-0.18],[52.63,-0.23],[52.71,-0.45],[52.73,-0.36],[52.71,-0.3],[52.93,-0.26],[53.06,-0.13],[53.08,-0.21],[53.12,-0.3],[53.21,-0.45],[53.27,-0.38],[53.38,-0.465],[53.4,-0.23],[53.45,-0.145],[53.56,-0.3],[53.62,-0.41],[53.64,-0.5],[53.71,-0.145],[53.75,-0.31],[53.86,-0.41],[54.1,-0.33],[54.1,-0.145],[54.25,-0.23],[54.33,-0.33],[54.53,-0.245],[54.57,-0.2]]},
{"t":"p","c":"PAR ➔ VIS","e":"Stimulus onset","p":[[50.01,-0.12],[50.03,-0.22],[50.01,-0.39],[50.03,-0.49],[50.07,-0.29],[50.1,-0.185],[50.12,-0.37],[50.14,-0.44],[50.18,-0.27],[50.2,-0.185],[50.25,-0.39],[50.27,-0.47],[50.29,-0.2],[50.38,-0.39],[50.42,-0.32],[50.46,-0.42],[50.55,-0.22],[50.72,-0.15],[50.72,-0.3],[50.74,-0.49],[50.81,-0.12],[50.81,-0.22],[50.87,-0.4],[50.9,-0.47],[50.94,-0.135],[51.05,-0.185],[51.13,-0.22],[51.22,-0.2],[51.26,-0.39],[51.41,-0.35],[51.72,-0.39],[51.83,-0.2],[51.91,-0.35],[51.96,-0.22],[52.0,-0.25],[52.02,-0.15],[52.04,-0.39],[52.28,-0.4],[52.73,-0.34],[52.76,-0.455],[52.78,-0.39],[53.0,-0.28],[53.03,-0.135],[53.19,-0.42],[53.27,-0.22],[53.36,-0.135],[53.58,-0.39],[54.14,-0.15],[50.05,-0.34],[50.16,-0.47],[50.33,-0.29],[50.1,-0.1]]},
{"t":"p","c":"PAR ➔ VIS","e":"Stimulus offset","p":[[50.06,-0.28],[50.1,-0.11],[50.12,-0.195],[50.14,-0.38],[50.16,-0.26],[50.21,-0.41],[50.25,-0.3],[50.32,-0.38],[50.42,-0.145],[50.47,-0.16],[50.51,-0.45],[50.57,-0.38],[50.66,-0.21],[50.68,-0.4],[50.75,-0.33],[50.79,-0.245],[50.81,-0.195],[50.9,-0.21],[50.94,-0.18],[51.05,-0.16],[51.35,-0.3],[51.48,-0.26],[51.37,-0.35],[51.65,-0.38],[51.76,-0.36],[51.81,-0.45],[51.85,-0.18],[51.87,-0.13],[51.96,-0.145],[52.0,-0.31],[52.04,-0.28],[52.19,-0.43],[52.26,-0.26],[52.32,-0.28],[52.39,-0.195],[52.39,-0.41],[52.63,-0.38],[52.65,-0.18],[52.76,-0.28],[52.76,-0.41],[52.86,-0.145],[53.02,-0.38],[53.1,-0.28],[53.23,-0.26],[53.27,-0.145],[53.45,-0.245],[53.51,-0.4],[53.62,-0.11],[53.68,-0.245],[53.71,-0.48],[53.94,-0.23],[54.05,-0.35]]},
{"t":"p","c":"VIS ➔ PAR","e":"Stimulus onset","p":[[50.01,-0.31],[50.03,-0.4],[50.03,-0.465],[50.07,-0.26],[50.1,-0.35],[50.14,-0.145],[50.14,-0.43],[50.18,-0.3],[50.22,-0.4],[50.27,-0.21],[50.29,-0.33],[50.33,-0.38],[50.38,-0.45],[50.42,-0.26],[50.44,-0.38],[50.48,-0.4],[50.68,-0.28],[50.72,-0.26],[50.81,-0.13],[50.85,-0.23],[50.87,-0.38],[50.92,-0.11],[50.94,-0.465],[50.98,-0.41],[51.05,-0.3],[51.07,-0.245],[51.26,-0.195],[51.26,-0.45],[51.31,-0.16],[51.41,-0.21],[51.52,-0.13],[51.54,-0.4],[51.57,-0.28],[51.65,-0.195],[51.67,-0.16],[51.67,-0.43],[51.72,-0.45],[51.83,-0.45],[51.87,-0.4],[51.91,-0.19],[51.98,-0.45],[52.0,-0.16],[52.04,-0.465],[52.17,-0.41],[52.28,-0.465],[52.37,-0.41],[52.45,-0.28],[52.56,-0.4],[52.76,-0.3],[52.8,-0.26],[52.86,-0.4],[53.0,-0.13],[53.06,-0.45],[53.14,-0.26],[53.19,-0.45],[53.23,-0.41],[54.14,-0.145]]},
{"t":"p","c":"VIS ➔ PAR","e":"Stimulus offset","p":[[50.03,-0.145],[50.1,-0.23],[50.12,-0.3],[50.12,-0.35],[50.14,-0.13],[50.14,-0.465],[50.32,-0.145],[50.42,-0.23],[50.47,-0.23],[50.53,-0.36],[50.57,-0.43],[50.62,-0.195],[50.64,-0.28],[50.68,-0.465],[50.7,-0.145],[50.77,-0.18],[50.81,-0.33],[50.9,-0.13],[51.07,-0.33],[51.09,-0.4],[51.07,-0.48],[51.24,-0.18],[51.27,-0.13],[51.37,-0.28],[51.5,-0.48],[51.59,-0.43],[51.76,-0.38],[51.78,-0.16],[51.85,-0.21],[51.91,-0.16],[52.02,-0.33],[52.09,-0.41],[52.19,-0.43],[52.3,-0.45],[52.3,-0.26],[52.41,-0.21],[52.41,-0.4],[52.48,-0.23],[52.52,-0.45],[52.65,-0.21],[52.69,-0.23],[52.73,-0.4],[52.93,-0.21],[52.99,-0.3],[53.06,-0.16],[53.1,-0.145],[53.12,-0.41],[53.25,-0.195],[53.27,-0.36],[53.4,-0.13],[53.45,-0.26],[53.58,-0.41],[53.68,-0.465],[53.94,-0.26],[54.05,-0.38]]},
{"t":"p","c":"PFC ➔ CS","e":"Stimulus onset","p":[[50.01,-0.16],[50.01,-0.28],[50.03,-0.38],[50.05,-0.465],[50.1,-0.195],[50.12,-0.3],[50.14,-0.43],[50.16,-0.145],[50.2,-0.35],[50.25,-0.43],[50.27,-0.195],[50.31,-0.45],[50.35,-0.13],[50.4,-0.23],[50.44,-0.11],[50.46,-0.35],[50.46,-0.465],[50.51,-0.11],[50.48,-0.26],[50.72,-0.23],[50.74,-0.465],[50.79,-0.11],[50.81,-0.18],[50.83,-0.38],[50.87,-0.43],[50.9,-0.31],[50.96,-0.36],[50.98,-0.45],[51.07,-0.21],[51.11,-0.26],[51.22,-0.26],[51.24,-0.11],[51.28,-0.23],[51.33,-0.13],[51.35,-0.36],[51.41,-0.26],[51.46,-0.21],[51.57,-0.245],[51.59,-0.3],[51.67,-0.45],[51.72,-0.3],[51.8,-0.23],[51.85,-0.4],[51.91,-0.21],[51.93,-0.11],[51.96,-0.35],[52.06,-0.195],[52.13,-0.28],[52.32,-0.465],[52.34,-0.195],[52.41,-0.21],[52.52,-0.4],[52.63,-0.38],[52.65,-0.465],[52.76,-0.35],[52.78,-0.21],[52.91,-0.41],[53.38,-0.35],[53.45,-0.41],[53.58,-0.41],[53.58,-0.16],[53.73,-0.16],[53.99,-0.21],[54.85,-0.195],[54.87,-0.38],[54.94,-0.4]]},
{"t":"p","c":"PFC ➔ CS","e":"Stimulus offset","p":[[50.03,-0.345],[50.06,-0.26],[50.08,-0.43],[50.1,-0.14],[50.12,-0.46],[50.14,-0.36],[50.19,-0.19],[50.25,-0.39],[50.32,-0.225],[50.4,-0.445],[50.51,-0.11],[50.51,-0.41],[50.64,-0.175],[50.75,-0.345],[50.77,-0.125],[50.83,-0.24],[50.86,-0.345],[50.94,-0.125],[51.09,-0.175],[51.2,-0.445],[51.22,-0.345],[51.29,-0.14],[51.31,-0.24],[51.37,-0.43],[51.42,-0.175],[51.46,-0.26],[51.5,-0.11],[51.52,-0.345],[51.59,-0.225],[51.68,-0.445],[51.7,-0.36],[51.76,-0.125],[51.81,-0.26],[51.83,-0.125],[51.85,-0.43],[51.89,-0.31],[51.98,-0.48],[52.04,-0.43],[52.11,-0.43],[52.19,-0.345],[52.24,-0.43],[52.3,-0.175],[52.37,-0.11],[52.41,-0.36],[52.43,-0.48],[52.56,-0.14],[52.63,-0.345],[52.78,-0.445],[52.8,-0.175],[52.84,-0.46],[52.95,-0.26],[52.97,-0.31],[53.02,-0.41],[53.06,-0.21],[53.17,-0.275],[53.34,-0.14],[53.36,-0.24],[53.45,-0.36],[53.45,-0.41],[53.79,-0.345],[53.81,-0.43],[53.86,-0.175],[53.92,-0.125],[53.9,-0.39],[53.99,-0.41],[54.18,-0.36],[54.31,-0.31],[54.4,-0.21],[54.48,-0.46],[54.66,-0.43],[54.83,-0.35],[55.13,-0.39],[55.22,-0.46],[55.35,-0.275],[55.39,-0.36],[55.94,-0.31],[55.99,-0.44]]},
{"t":"p","c":"CS ➔ PFC","e":"Stimulus onset","p":[[50.01,-0.12],[50.03,-0.22],[50.01,-0.37],[50.05,-0.29],[50.07,-0.39],[50.1,-0.12],[50.12,-0.185],[50.14,-0.455],[50.16,-0.27],[50.2,-0.12],[50.22,-0.35],[50.25,-0.2],[50.29,-0.42],[50.33,-0.3],[50.35,-0.085],[50.4,-0.1],[50.42,-0.35],[50.44,-0.2],[50.46,-0.455],[50.51,-0.135],[50.55,-0.42],[50.61,-0.39],[50.68,-0.35],[50.72,-0.15],[50.79,-0.27],[50.83,-0.39],[50.85,-0.22],[50.94,-0.42],[50.96,-0.085],[51.03,-0.15],[51.09,-0.35],[51.13,-0.12],[51.2,-0.22],[51.22,-0.4],[51.26,-0.185],[51.28,-0.29],[51.41,-0.32],[51.52,-0.12],[51.54,-0.455],[51.61,-0.35],[51.63,-0.17],[51.74,-0.17],[51.8,-0.37],[51.91,-0.12],[51.93,-0.39],[51.96,-0.185],[52.0,-0.27],[52.13,-0.12],[52.15,-0.35],[52.32,-0.22],[52.54,-0.37],[52.63,-0.27],[52.65,-0.17],[52.71,-0.37],[52.78,-0.35],[53.07,-0.085],[53.25,-0.34],[53.38,-0.22],[53.45,-0.17],[53.58,-0.185],[53.73,-0.2],[54.85,-0.1],[54.85,-0.22],[54.94,-0.31]]},
{"t":"p","c":"CS ➔ PFC","e":"Stimulus offset","p":[[50.03,-0.16],[50.06,-0.31],[50.08,-0.4],[50.1,-0.23],[50.12,-0.3],[50.14,-0.36],[50.16,-0.195],[50.19,-0.45],[50.23,-0.31],[50.32,-0.11],[50.36,-0.23],[50.38,-0.13],[50.49,-0.13],[50.53,-0.3],[50.6,-0.43],[50.64,-0.16],[50.75,-0.41],[50.77,-0.11],[50.81,-0.35],[50.92,-0.4],[51.09,-0.13],[51.22,-0.3],[51.27,-0.41],[51.29,-0.145],[51.33,-0.26],[51.4,-0.33],[51.46,-0.41],[51.5,-0.11],[51.52,-0.23],[51.59,-0.36],[51.61,-0.13],[51.68,-0.28],[51.74,-0.41],[51.76,-0.195],[51.81,-0.31],[51.85,-0.145],[51.89,-0.26],[51.96,-0.38],[52.06,-0.4],[52.09,-0.13],[52.15,-0.28],[52.24,-0.43],[52.3,-0.16],[52.35,-0.33],[52.39,-0.195],[52.43,-0.4],[52.48,-0.13],[52.54,-0.26],[52.58,-0.41],[52.63,-0.18],[52.67,-0.28],[52.76,-0.4],[52.78,-0.13],[52.82,-0.245],[52.89,-0.33],[52.93,-0.43],[52.97,-0.11],[53.06,-0.36],[53.1,-0.26],[53.17,-0.41],[53.23,-0.28],[53.49,-0.195],[53.53,-0.18],[53.79,-0.26],[53.81,-0.465],[53.92,-0.16],[53.97,-0.43],[54.18,-0.46],[54.4,-0.235],[54.55,-0.095],[54.66,-0.465],[54.7,-0.33],[54.83,-0.245],[55.0,-0.36],[55.39,-0.26],[55.39,-0.38],[55.39,-0.46]]}
]},
"transform": [{"flatten": ["p"]}],
"bounds": "flush",
"facet": {
  "row": {"field": "c", "type": "nominal",
    "sort": ["VIS ➔ CS","CS ➔ VIS","CS ➔ PAR","PAR ➔ CS","PAR ➔ PFC","PFC ➔ PAR","PFC ➔ VIS","VIS ➔ PFC","PAR ➔ VIS","VIS ➔ PAR","PFC ➔ CS","CS ➔ PFC"],
    "header": {"title": null, "labels": false}},
  "column": {"field": "e", "type": "nominal", "sort": ["Stimulus onset","Stimulus offset"],
    "title": "Cross-validated accuracy by SPI (%)",
    "header": {"titleOrient": "bottom", "titleFont": "Liberation Sans", "titleFontSize": 86, "titleFontWeight": "normal", "titleColor": "black", "titlePadding": 12, "labels": false}}
},
"spacing": {"row": 39.5, "column": 38},
"spec": {
  "width": 882,
  "height": 226,
  "encoding": {
    "x": {"field": "p[0]", "type": "quantitative", "scale": {"domain": [49.68, 56.29], "nice": false, "zero": false},
      "axis": {"values": [50, 52, 54, 56], "title": null, "grid": false, "domainColor": "black", "domainWidth": 7, "tickColor": "black", "tickWidth": 7, "tickSize": 22, "labelFont": "Liberation Sans", "labelFontSize": 86, "labelColor": "black", "labelPadding": 2, "labelFlush": false}},
    "y": {"field": "p[1]", "type": "quantitative", "stack": null, "scale": {"domain": [-0.572, 0.9495], "nice": false, "zero": false},
      "axis": {"values": [0], "labels": false, "title": null, "grid": false, "domainColor": "black", "domainWidth": 7, "tickColor": "black", "tickWidth": 7, "tickSize": 19}},
    "color": {"field": "c", "type": "nominal", "legend": null,
      "scale": {"domain": ["VIS ➔ CS","CS ➔ VIS","CS ➔ PAR","PAR ➔ CS","PAR ➔ PFC","PFC ➔ PAR","PFC ➔ VIS","VIS ➔ PFC","PAR ➔ VIS","VIS ➔ PAR","PFC ➔ CS","CS ➔ PFC"],
        "range": ["#F8766D","#DE8C00","#B79F00","#7CAE00","#00BA38","#00C08B","#00BFC4","#00B4F0","#619CFF","#C77CFF","#F564E3","#FF64B0"]}}
  },
  "layer": [
    {"transform": [{"filter": "datum.t == 'd'"}],
     "mark": {"type": "area", "interpolate": "monotone", "stroke": "black", "strokeWidth": 4.5, "strokeJoin": "round", "opacity": 1, "fillOpacity": 1}},
    {"transform": [{"filter": "datum.t == 'm'"}],
     "mark": {"type": "rule", "color": "black", "strokeWidth": 8},
     "encoding": {"y": {"datum": 0}, "y2": {"datum": 0.485}, "color": {"value": "black"}}},
    {"transform": [{"filter": "datum.t == 'p'"}],
     "mark": {"type": "circle", "size": 520, "opacity": 0.6}},
    {"transform": [{"filter": "datum.t == 'm' && datum.e == 'Stimulus onset'"}],
     "mark": {"type": "text", "font": "Lato, DejaVu Sans", "fontSize": 100, "align": "center", "baseline": "alphabetic", "dx": -293, "dy": 47},
     "encoding": {"x": {"datum": 49.68}, "y": {"datum": 0}, "text": {"field": "c"}}},
    {"transform": [{"filter": "datum.t == 'm' && datum.c == 'VIS ➔ CS'"}],
     "mark": {"type": "text", "font": "Lato", "fontWeight": "bold", "fontSize": 84, "align": "center", "baseline": "alphabetic", "dy": -28, "color": "black"},
     "encoding": {"x": {"datum": 52.41}, "y": {"datum": 0.9495}, "text": {"field": "e"}, "color": {"value": "black"}}}
  ]
},
"config": {"view": {"stroke": null}, "font": "Liberation Sans"}
}
